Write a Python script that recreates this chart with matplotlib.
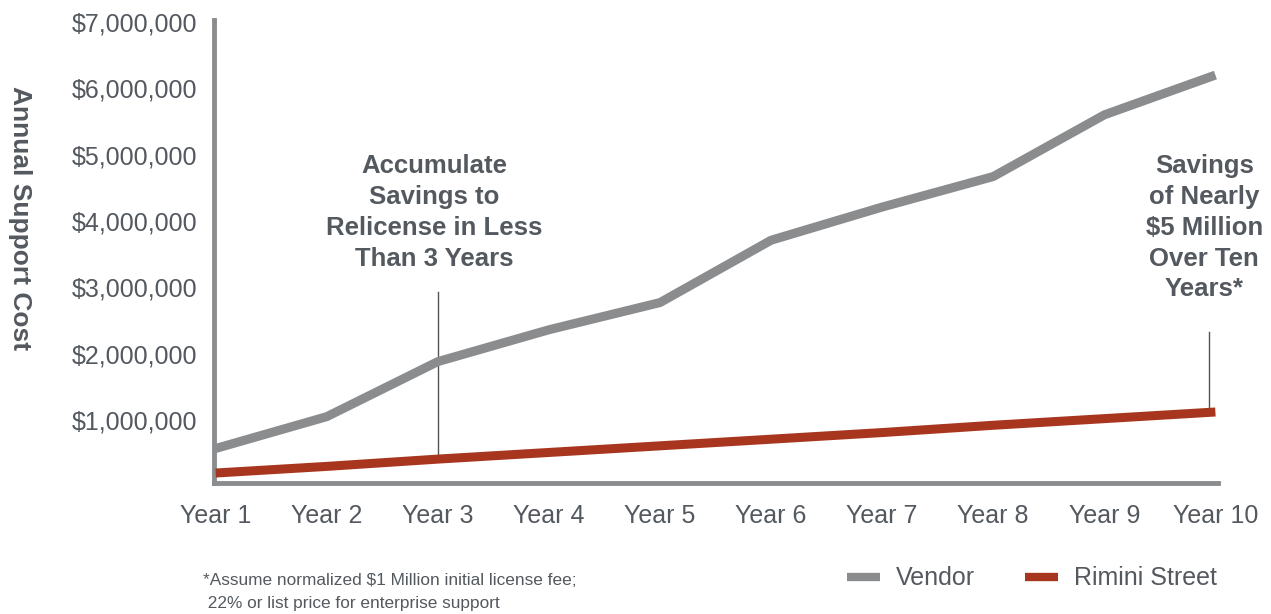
import matplotlib
matplotlib.use('Agg')
from matplotlib import pyplot as plt
from matplotlib.lines import Line2D
from matplotlib.ticker import FuncFormatter

plt.rcParams['font.family'] = ['Liberation Sans', 'DejaVu Sans']

years = ['Year 1', 'Year 2', 'Year 3', 'Year 4', 'Year 5',
         'Year 6', 'Year 7', 'Year 8', 'Year 9', 'Year 10']
vendor = [570000, 1050000, 1880000, 2360000, 2770000,
          3710000, 4210000, 4670000, 5600000, 6200000]
rimini = [200000, 300000, 410000, 510000, 610000,
          710000, 810000, 920000, 1020000, 1120000]
y_ticks = [1000000, 2000000, 3000000, 4000000, 5000000, 6000000, 7000000]

text_col = '#54595f'
grey = '#8a8c8e'
red = '#a8361f'

fig = plt.figure(figsize=(12.71, 6.14), dpi=100)
ax = fig.add_axes([0.1684, 0.2134, 0.7896, 0.754])

x = range(1, len(years) + 1)
ax.plot(x, vendor, color=grey, lw=6.5, solid_joinstyle='round', solid_capstyle='butt', zorder=3)
ax.plot(x, rimini, color=red, lw=6.5, solid_joinstyle='round', solid_capstyle='butt', zorder=3)

ax.set_xlim(0.985, 10.02)
ax.set_ylim(50000, 7030000)

ax.set_xticks(list(x))
ax.set_xticklabels(years)
ax.set_yticks(y_ticks)
ax.yaxis.set_major_formatter(FuncFormatter(lambda v, p: '${:,.0f}'.format(v)))
ax.tick_params(axis='both', length=0, labelsize=18, colors=text_col)
ax.tick_params(axis='y', pad=12)
ax.tick_params(axis='x', pad=15)

for s in ['top', 'right']:
    ax.spines[s].set_visible(False)
for s in ['left', 'bottom']:
    ax.spines[s].set_color(grey)
    ax.spines[s].set_linewidth(3.5)
    ax.spines[s].set_capstyle('projecting')

fig.text(0.016, 0.645, 'Annual Support Cost', rotation=270, fontsize=19,
         fontweight='bold', color=text_col, ha='center', va='center')

# annotation leader lines
ax.plot([3, 3], [rimini[2] + 40000, 2930000], color='#555555', lw=1.0, zorder=2)
ax.plot([9.94, 9.94], [rimini[9] + 40000, 2320000], color='#555555', lw=1.0, zorder=2)

ax.text(2.97, 5010000, 'Accumulate\nSavings to\nRelicense in Less\nThan 3 Years',
        ha='center', va='top', fontsize=18.5, fontweight='bold', color=text_col,
        linespacing=1.36)
ax.text(9.9, 5010000, 'Savings\nof Nearly\n$5 Million\nOver Ten\nYears*',
        ha='center', va='top', fontsize=18.5, fontweight='bold', color=text_col,
        linespacing=1.36)

fig.text(0.16, 0.066, '*Assume normalized $1 Million initial license fee;\n 22% or list price for enterprise support',
         ha='left', va='top', fontsize=12.4, color=text_col, linespacing=1.6)

handles = [Line2D([0], [0], color=grey, lw=6, solid_capstyle='butt'),
           Line2D([0], [0], color=red, lw=6, solid_capstyle='butt')]
leg = fig.legend(handles, ['Vendor', 'Rimini Street'], loc='center',
                 bbox_to_anchor=(0.812, 0.058), ncol=2, frameon=False,
                 handlelength=1.3, handletextpad=0.65, columnspacing=2.0,
                 prop={'size': 18})
for t in leg.get_texts():
    t.set_color(text_col)

plt.savefig('out.png', dpi=100)
